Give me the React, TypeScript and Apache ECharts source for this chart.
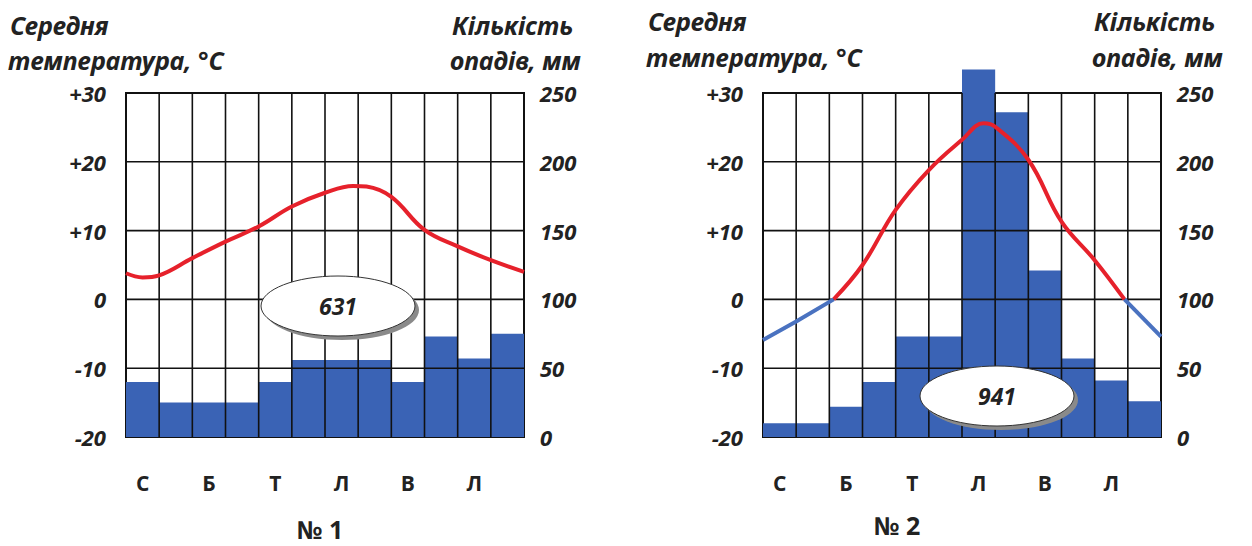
import React, { useEffect, useRef } from "react";
import * as echarts from "echarts";

const months = ["С", "Л", "Б", "К", "Т", "Ч", "Л", "С", "В", "Ж", "Л", "Г"];
const tempTicks = { min: -20, max: 30, step: 10 };
const precipTicks = { min: 0, max: 250, step: 50 };
const innerTempLines = [-10, 0, 10, 20];
const innerMonthLines = [1, 2, 3, 4, 5, 6, 7, 8, 9, 10, 11];

// Chart 1
const precip1 = [40, 25, 25, 25, 40, 56, 56, 56, 40, 73, 57, 75];
const temp1: [number, number][] = [
  [0, 3.8], [0.5, 3.2], [1, 3.5], [2, 6.0], [3, 8.4], [4, 10.6], [5, 13.5],
  [6, 15.5], [6.85, 16.5], [7.25, 16.4], [8, 14.9], [9, 10.1], [10, 7.7],
  [11, 5.7], [12, 4.0],
];
const total1 = 631;

// Chart 2
const precip2 = [10, 10, 22, 40, 73, 73, 267, 236, 121, 57, 41, 26];
const temp2Warm: [number, number][] = [
  [2.13, 0], [3, 5.0], [4, 13.0], [5, 18.8], [6, 23.2], [6.65, 25.6], [7, 25.1],
  [8, 20.3], [9, 11.3], [10, 5.7], [10.9, 0],
];
const temp2ColdStart: [number, number][] = [[0, -5.9], [1, -3.2], [2.13, 0]];
const temp2ColdEnd: [number, number][] = [[10.9, 0], [12, -5.4]];
const total2 = 941;

const FONT = "'Open Sans', 'Noto Sans', sans-serif";
const TFONT = "'Noto Sans', 'Open Sans', sans-serif";
const BAR = "#3a63b5";
const RED = "#e6212b";
const BLUE = "#4a72c0";

export default function App() {
  const ref = useRef<HTMLDivElement>(null);
  useEffect(() => {
    if (!ref.current) return;
    const chart = echarts.init(ref.current, undefined, { renderer: "svg" });
    const grids = [
      { left: 126, top: 93, width: 398, height: 344 },
      { left: 763, top: 93, width: 398, height: 344 },
    ];
    const xAxes: any[] = [];
    const yAxes: any[] = [];
    grids.forEach((g, i) => {
      xAxes.push({
        type: "category",
        gridIndex: i,
        data: months,
        boundaryGap: true,
        axisLine: { show: false },
        axisTick: { show: false },
        axisLabel: {
          interval: 1,
          margin: 35,
          color: "#222",
          fontFamily: FONT,
          fontWeight: "bold",
          fontSize: 21,
        },
        splitLine: { show: false },
      });
      xAxes.push({
        type: "value",
        gridIndex: i,
        min: 0,
        max: 12,
        show: false,
      });
      yAxes.push({
        type: "value",
        gridIndex: i,
        position: "left",
        min: tempTicks.min,
        max: tempTicks.max,
        interval: tempTicks.step,
        axisLine: { show: false },
        axisTick: { show: false },
        axisLabel: {
          margin: 20,
          color: "#222",
          fontFamily: FONT,
          fontWeight: "bold",
          fontStyle: "italic",
          fontSize: 22,
          padding: [4, 0, 0, 0],
          formatter: (v: number) => (v > 0 ? "+" + v : String(v)),
        },
        splitLine: { show: false },
      });
      yAxes.push({
        type: "value",
        gridIndex: i,
        position: "right",
        min: precipTicks.min,
        max: precipTicks.max,
        interval: precipTicks.step,
        axisLine: { show: false },
        axisTick: { show: false },
        axisLabel: {
          margin: 16,
          color: "#222",
          fontFamily: FONT,
          fontWeight: "bold",
          fontStyle: "italic",
          fontSize: 22,
        },
        splitLine: { show: false },
      });
    });

    const barSeries = (data: number[], gi: number) => ({
      type: "bar",
      xAxisIndex: gi * 2,
      yAxisIndex: gi * 2 + 1,
      data,
      barWidth: "100%",
      barCategoryGap: "0%",
      clip: false,
      itemStyle: { color: BAR },
      z: 1,
    });
    const lineSeries = (data: [number, number][], gi: number, color: string, smooth: number) => ({
      type: "line",
      xAxisIndex: gi * 2 + 1,
      yAxisIndex: gi * 2,
      data,
      smooth,
      showSymbol: false,
      symbol: "none",
      lineStyle: { color, width: 4 },
      z: 10,
    });

    const titleText = (text: string, x: number, y: number) => ({
      type: "text",
      x,
      y,
      z: 20,
      style: {
        text,
        fill: "#222",
        font: `italic bold 25px ${TFONT}`,
        textAlign: "left",
        textVerticalAlign: "middle",
      },
    });
    const ellipse = (cx: number, cy: number, label: number) => ({
      type: "group",
      z: 30,
      children: [
        { type: "ellipse", shape: { cx: cx + 4, cy: cy + 4, rx: 77, ry: 30 }, style: { fill: "#8a8a8a" }, z: 30 },
        { type: "ellipse", shape: { cx, cy, rx: 77, ry: 30 }, style: { fill: "#ffffff", stroke: "#333", lineWidth: 1 }, z: 31 },
        {
          type: "text",
          x: cx,
          y: cy,
          z: 32,
          style: {
            text: String(label),
            fill: "#222",
            font: `italic bold 23px ${TFONT}`,
            textAlign: "center",
            textVerticalAlign: "middle",
          },
        },
      ],
    });

    chart.setOption({
      animation: false,
      backgroundColor: "#ffffff",
      grid: grids.map((g) => ({ ...g, show: true, borderColor: "#111", borderWidth: 2, backgroundColor: "transparent" })),
      xAxis: xAxes,
      yAxis: yAxes,
      series: [
        barSeries(precip1, 0),
        lineSeries(temp1, 0, RED, 0.4),
        barSeries(precip2, 1),
        lineSeries(temp2Warm, 1, RED, 0.4),
        lineSeries(temp2ColdStart, 1, BLUE, 0),
        lineSeries(temp2ColdEnd, 1, BLUE, 0),
      ],
    });

    // Grid lines over the bars, positioned through the chart's own scales
    const gridGraphics: any[] = [];
    [0, 1].forEach((gi) => {
      const finder = { xAxisIndex: gi * 2 + 1, yAxisIndex: gi * 2 };
      const seg = (a: number[], b: number[]) => {
        const p1 = chart.convertToPixel(finder as any, a) as number[];
        const p2 = chart.convertToPixel(finder as any, b) as number[];
        gridGraphics.push({
          type: "line",
          silent: true,
          z: 5,
          shape: { x1: p1[0], y1: p1[1], x2: p2[0], y2: p2[1] },
          style: { stroke: "#111", lineWidth: 1.6 },
        });
      };
      innerTempLines.forEach((v) => seg([0, v], [12, v]));
      innerMonthLines.forEach((m) => seg([m, tempTicks.min], [m, tempTicks.max]));
    });

    chart.setOption({
      graphic: [
        ...gridGraphics,
        titleText("Середня", 10, 25),
        titleText("температура, °C", 8, 60),
        titleText("Кількість", 452, 25),
        titleText("опадів, мм", 450, 60),
        titleText("Середня", 648, 21),
        titleText("температура, °C", 646, 57),
        titleText("Кількість", 1094, 21),
        titleText("опадів, мм", 1092, 57),
        ellipse(338, 306, total1),
        ellipse(997, 396, total2),
        {
          type: "text",
          x: 320,
          y: 529,
          z: 20,
          style: { text: "№ 1", fill: "#222", font: `bold 25px ${FONT}`, textAlign: "center", textVerticalAlign: "middle" },
        },
        {
          type: "text",
          x: 897,
          y: 525,
          z: 20,
          style: { text: "№ 2", fill: "#222", font: `bold 25px ${FONT}`, textAlign: "center", textVerticalAlign: "middle" },
        },
      ],
    });
    return () => chart.dispose();
  }, []);
  return (
    <div
      ref={ref}
      style={{ position: "fixed", left: 0, top: 0, width: 1252, height: 546, background: "#fff" }}
    />
  );
}
